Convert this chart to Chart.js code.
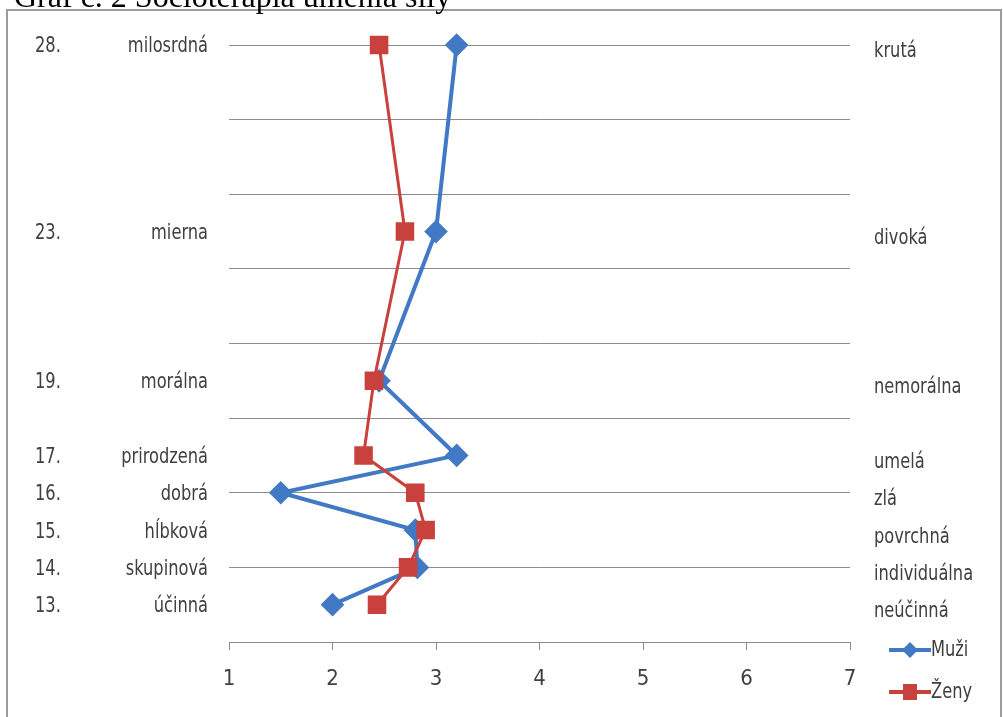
<!DOCTYPE html>
<html><head><meta charset="utf-8">
<script src="https://cdn.jsdelivr.net/npm/chart.js@4/dist/chart.umd.min.js"></script>
<style>html,body{margin:0;padding:0;background:#fff;overflow:hidden}canvas{display:block}</style>
</head><body><canvas id="c" width="1003" height="717"></canvas>
<script>
const titleText = "Graf č. 2 Socioterapia umenia sily";
const itemNumbers = ["28.","23.","19.","17.","16.","15.","14.","13."];
const leftLabels = ["milosrdná","mierna","morálna","prirodzená","dobrá","hĺbková","skupinová","účinná"];
const rightLabels = ["krutá","divoká","nemorálna","umelá","zlá","povrchná","individuálna","neúčinná"];
const rowPositions = [8,5.5,3.5,2.5,2,1.5,1,0.5];
const muzi = [3.2,3.0,2.45,3.2,1.5,2.8,2.82,2.0];
const zeny = [2.45,2.7,2.4,2.3,2.8,2.9,2.73,2.43];
const xTicks = [1,2,3,4,5,6,7];
const seriesNames = ["Muži","Ženy"];

const BLUE = '#4179C4', RED = '#C8413D';
const FONT = '"Liberation Sans Narrow","DejaVu Sans Condensed","Liberation Sans",sans-serif';
const SX = 0.86;

const toPts = vals => vals.map((v,i)=>({x:v,y:rowPositions[i]}));

function narrowText(ctx, txt, x, y, align){
  ctx.save(); ctx.scale(SX,1); ctx.textAlign = align; ctx.fillText(txt, x/SX, y); ctx.restore();
}

const labelsPlugin = {
  id:'labels',
  afterDraw(chart){
    const ctx = chart.ctx, ys = chart.scales.y;
    ctx.save();
    // frame
    ctx.strokeStyle = '#9c9c9c'; ctx.lineWidth = 2;
    ctx.beginPath(); ctx.moveTo(7,720); ctx.lineTo(7,10); ctx.lineTo(1001,10); ctx.lineTo(1001,720); ctx.stroke();
    // title (cut off at the top)
    ctx.fillStyle = '#000'; ctx.font = '32px "Liberation Serif","Times New Roman",serif';
    ctx.textBaseline = 'alphabetic'; ctx.textAlign = 'left';
    ctx.fillText(titleText, 14, 7);
    // row labels
    ctx.font = '21px ' + FONT; ctx.fillStyle = '#404040'; ctx.textBaseline = 'middle';
    rowPositions.forEach((p,i)=>{
      const y = ys.getPixelForValue(p);
      narrowText(ctx, itemNumbers[i], 35, y+2, 'left');
      narrowText(ctx, leftLabels[i], 208, y+2, 'right');
      narrowText(ctx, rightLabels[i], 874, y+7, 'left');
    });
    // legend
    const items = [{c:BLUE, y:650, s:'d'},{c:RED, y:692, s:'s'}];
    items.forEach((it,i)=>{
      ctx.strokeStyle = it.c; ctx.fillStyle = it.c; ctx.lineWidth = 4;
      ctx.beginPath(); ctx.moveTo(889,it.y); ctx.lineTo(931,it.y); ctx.stroke();
      ctx.beginPath();
      if(it.s==='d'){ ctx.moveTo(910,it.y-8); ctx.lineTo(918,it.y); ctx.lineTo(910,it.y+8); ctx.lineTo(902,it.y); ctx.closePath(); }
      else { ctx.rect(903,it.y-8,14,16); }
      ctx.fill();
      ctx.fillStyle = '#404040'; ctx.textBaseline='middle';
      narrowText(ctx, seriesNames[i], 931, it.y+1, 'left');
    });
    ctx.restore();
  }
};

new Chart(document.getElementById('c'), {
  type:'scatter',
  data:{datasets:[
    {label:seriesNames[0], data:toPts(muzi), showLine:true, borderColor:BLUE, backgroundColor:BLUE, borderWidth:4,
     pointStyle:'rectRot', pointRadius:9, pointHoverRadius:9, order:1, clip:false, tension:0},
    {label:seriesNames[1], data:toPts(zeny), showLine:true, borderColor:RED, backgroundColor:RED, borderWidth:3,
     pointStyle:'rect', pointRadius:11, pointHoverRadius:11, order:0, clip:false, tension:0}
  ]},
  options:{
    responsive:false, animation:false, devicePixelRatio:1,
    layout:{padding:{left:229, right:153, top:45, bottom:0}},
    plugins:{legend:{display:false}, tooltip:{enabled:false}},
    scales:{
      x:{type:'linear', min:1, max:7,
         afterBuildTicks: s => { s.ticks = xTicks.map(v=>({value:v})); },
         afterFit: s => { s.height = 75; },
         ticks:{color:'#404040', font:{family:FONT, size:22}, padding:16},
         grid:{drawOnChartArea:false, drawTicks:true, tickLength:8, color:'#8c8c8c'},
         border:{display:true, color:'#8c8c8c', width:1}},
      y:{type:'linear', min:0, max:8,
         ticks:{display:false, stepSize:1},
         afterFit: s => { s.width = 0; },
         grid:{color:'#8c8c8c', lineWidth:1, drawTicks:false},
         border:{display:false}}
    }
  },
  plugins:[labelsPlugin]
});
</script></body></html>
